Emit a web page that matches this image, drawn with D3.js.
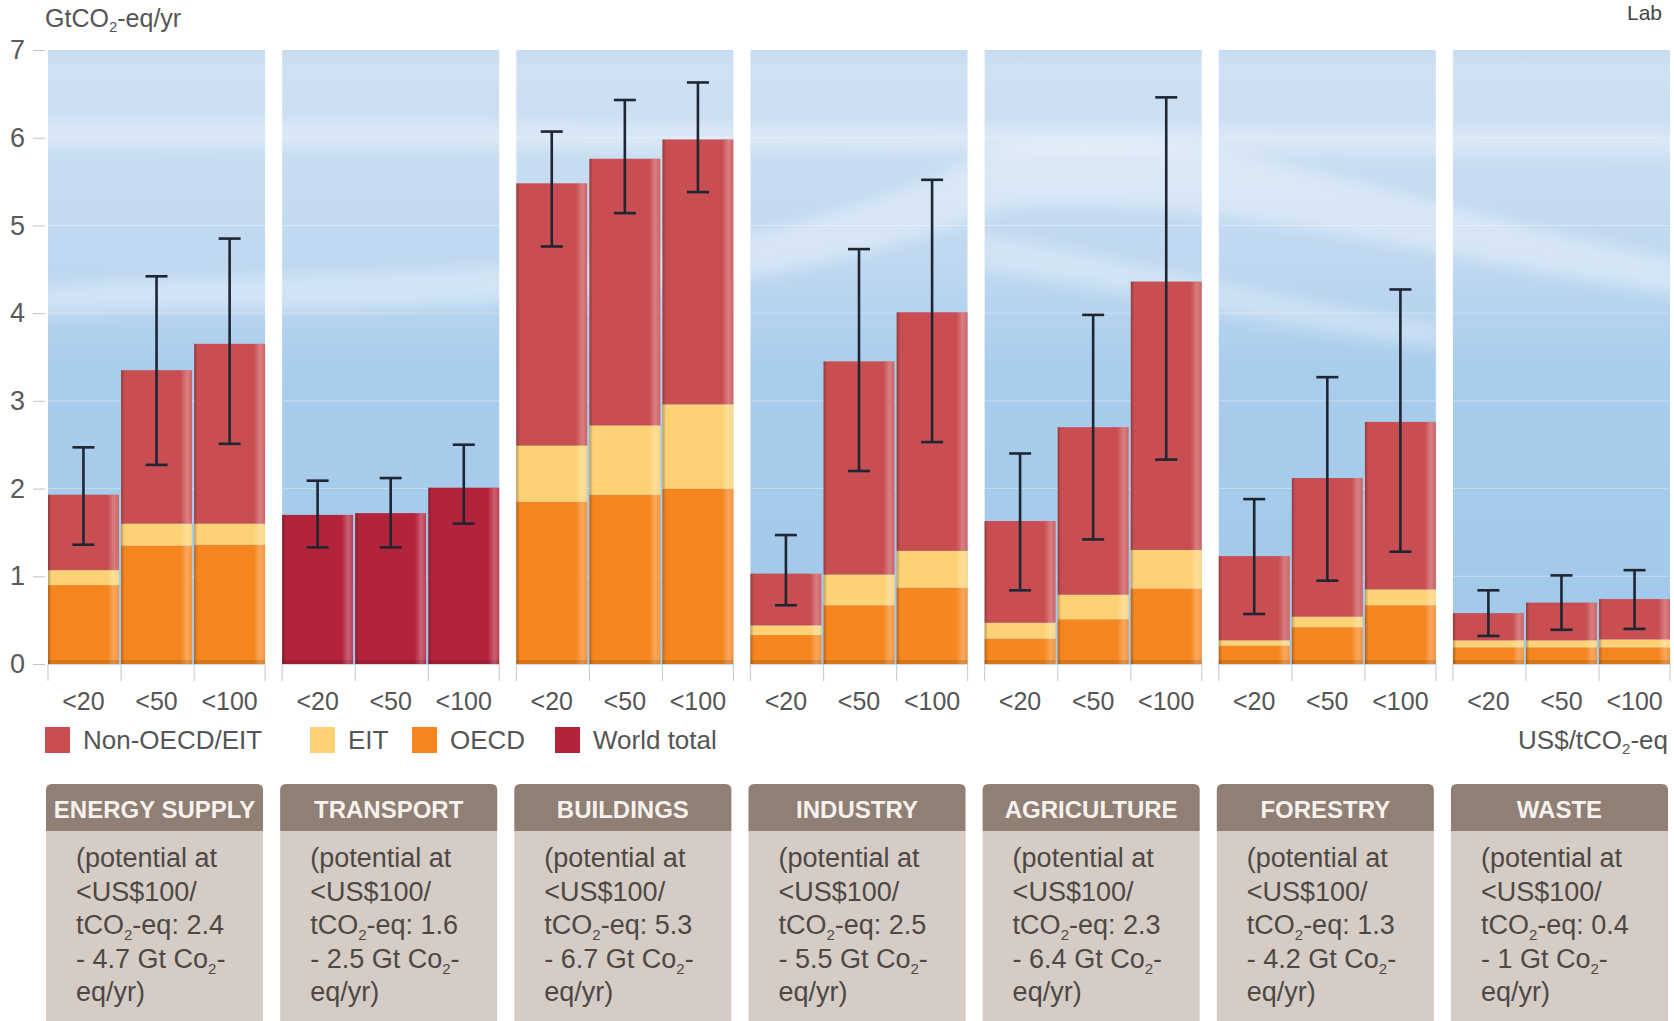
<!DOCTYPE html>
<html>
<head>
<meta charset="utf-8">
<script src="https://cdn.jsdelivr.net/npm/d3@7"></script>
<style>
  html, body { margin: 0; padding: 0; background: #fff; }
  svg { display: block; }
  text { font-family: "Liberation Sans", Arial, sans-serif; }
</style>
</head>
<body>
<svg id="chart" width="1674" height="1021"></svg>
<script>
// sectors and carbon price classes (US$/tCO2-eq)
const sectors = ['ENERGY SUPPLY', 'TRANSPORT', 'BUILDINGS', 'INDUSTRY', 'AGRICULTURE', 'FORESTRY', 'WASTE'];
const priceClasses = ['<20', '<50', '<100'];

// segment values per sector, one per price class (GtCO2-eq/yr)
const oecd    = [[0.90, 1.35, 1.36], [0, 0, 0], [1.85, 1.93, 2.00], [0.33, 0.67, 0.87], [0.29, 0.51, 0.86], [0.21, 0.42, 0.67], [0.19, 0.19, 0.19]];
const eit     = [[0.17, 0.25, 0.24], [0, 0, 0], [0.64, 0.79, 0.96], [0.11, 0.35, 0.42], [0.18, 0.28, 0.44], [0.06, 0.12, 0.18], [0.08, 0.08, 0.09]];
const nonOecd = [[0.86, 1.75, 2.05], [0, 0, 0], [2.99, 3.04, 3.02], [0.59, 2.43, 2.72], [1.16, 1.91, 3.06], [0.96, 1.58, 1.91], [0.31, 0.43, 0.46]];
const world   = [[0, 0, 0], [1.70, 1.72, 2.01], [0, 0, 0], [0, 0, 0], [0, 0, 0], [0, 0, 0], [0, 0, 0]];

// uncertainty ranges [low, high]
const errLow  = [[1.36, 2.27, 2.51], [1.33, 1.33, 1.60], [4.76, 5.14, 5.38], [0.67, 2.20, 2.53], [0.84, 1.42, 2.33], [0.57, 0.95, 1.28], [0.32, 0.39, 0.40]];
const errHigh = [[2.47, 4.42, 4.85], [2.09, 2.12, 2.50], [6.07, 6.43, 6.63], [1.47, 4.73, 5.52], [2.40, 3.98, 6.46], [1.88, 3.27, 4.27], [0.84, 1.01, 1.07]];

// potential at <US$100/tCO2-eq
const potentialLow  = ['2.4', '1.6', '5.3', '2.5', '2.3', '1.3', '0.4'];
const potentialHigh = ['4.7', '2.5', '6.7', '5.5', '6.4', '4.2', '1'];

const yTicks = [0, 1, 2, 3, 4, 5, 6, 7];

const keys = ['oecd', 'eit', 'nonOecd', 'world'];
const legendKeys = ['nonOecd', 'eit', 'oecd', 'world'];
const legendLabels = ['Non-OECD/EIT', 'EIT', 'OECD', 'World total'];
const colors = { nonOecd: '#c84e51', eit: '#fdd274', oecd: '#f5861f', world: '#b4233c' };

const rows = [];
sectors.forEach((s, i) => priceClasses.forEach((p, j) => {
  rows.push({ sector: s, price: p, oecd: oecd[i][j], eit: eit[i][j], nonOecd: nonOecd[i][j], world: world[i][j],
    lo: errLow[i][j], hi: errHigh[i][j] });
}));

const svg = d3.select('#chart');

const x0 = d3.scaleBand().domain(sectors).range([48, 1670]).paddingInner(0.073).paddingOuter(0);
const x1 = d3.scaleBand().domain(priceClasses).range([0, x0.bandwidth()]).paddingInner(0.03);
const y = d3.scaleLinear().domain([0, 7]).range([664, 50]);

const defs = svg.append('defs');

const sky = defs.append('linearGradient').attr('id', 'sky').attr('x1', 0).attr('y1', 0).attr('x2', 0).attr('y2', 1);
sky.append('stop').attr('offset', '0%').attr('stop-color', '#c8dbef');
sky.append('stop').attr('offset', '3%').attr('stop-color', '#cfe1f3');
sky.append('stop').attr('offset', '35%').attr('stop-color', '#bfd8f0');
sky.append('stop').attr('offset', '52%').attr('stop-color', '#a9cdec');
sky.append('stop').attr('offset', '100%').attr('stop-color', '#a1c8ea');

const shade = defs.append('linearGradient').attr('id', 'shade').attr('x1', 0).attr('y1', 0).attr('x2', 1).attr('y2', 0);
shade.append('stop').attr('offset', '0%').attr('stop-color', '#000').attr('stop-opacity', 0.25);
shade.append('stop').attr('offset', '5%').attr('stop-color', '#000').attr('stop-opacity', 0);
shade.append('stop').attr('offset', '84%').attr('stop-color', '#fff').attr('stop-opacity', 0);
shade.append('stop').attr('offset', '93%').attr('stop-color', '#fff').attr('stop-opacity', 0.28);
shade.append('stop').attr('offset', '100%').attr('stop-color', '#fff').attr('stop-opacity', 0.12);

defs.append('filter').attr('id', 'blur').attr('x', '-50%').attr('y', '-50%').attr('width', '200%').attr('height', '200%')
  .append('feGaussianBlur').attr('stdDeviation', 7);

const clip = defs.append('clipPath').attr('id', 'panels');
clip.selectAll('rect').data(sectors).join('rect')
  .attr('x', d => x0(d)).attr('y', y(7)).attr('width', x0.bandwidth()).attr('height', y(0) - y(7));

// panel backgrounds
svg.append('g').selectAll('rect').data(sectors).join('rect')
  .attr('x', d => x0(d)).attr('y', y(7))
  .attr('width', x0.bandwidth()).attr('height', y(0) - y(7))
  .attr('fill', 'url(#sky)');

// soft cloud wisps
const wisps = svg.append('g').attr('clip-path', 'url(#panels)').attr('filter', 'url(#blur)').attr('fill', '#fff');
wisps.append('path').attr('opacity', 0.35)
  .attr('d', `M40,${y(4.3)} C300,${y(4.6)} 700,${y(4.1)} 1000,${y(5.9)} C1200,${y(6.3)} 1400,${y(5.2)} 1680,${y(4.6)} L1680,${y(4.2)} C1400,${y(4.7)} 1200,${y(5.4)} 1000,${y(5.2)} C700,${y(3.8)} 300,${y(4.1)} 40,${y(4.0)} Z`);
wisps.append('path').attr('opacity', 0.3)
  .attr('d', `M980,${y(4.9)} C1100,${y(4.7)} 1250,${y(4.2)} 1440,${y(3.9)} L1440,${y(3.6)} C1250,${y(3.9)} 1100,${y(4.3)} 980,${y(4.5)} Z`);
wisps.append('path').attr('opacity', 0.3)
  .attr('d', `M40,${y(6.2)} L1680,${y(6.1)} L1680,${y(5.8)} L40,${y(5.9)} Z`);

// faint grid lines
svg.append('g').attr('clip-path', 'url(#panels)').selectAll('line').data(yTicks.slice(1, -1)).join('line')
  .attr('x1', 40).attr('x2', 1674).attr('y1', d => y(d)).attr('y2', d => y(d))
  .attr('stroke', '#fff').attr('stroke-opacity', 0.35).attr('stroke-width', 1);

// y axis
const yAxis = svg.append('g').attr('transform', 'translate(45,0)')
  .call(d3.axisLeft(y).tickValues(yTicks).tickSize(12).tickPadding(8).tickFormat(d3.format('d')));
yAxis.select('.domain').remove();
yAxis.selectAll('.tick line').attr('stroke', '#c3c3c3');
yAxis.selectAll('.tick text').attr('fill', '#5a5a5a').style('font-size', '27px')
  .style('font-family', '"Liberation Sans", Arial, sans-serif');

const yLabel = svg.append('text').attr('x', 45).attr('y', 27).attr('fill', '#555').style('font-size', '25px');
yLabel.append('tspan').text('GtCO');
yLabel.append('tspan').text('2').style('font-size', '15px').attr('dy', 5);
yLabel.append('tspan').text('-eq/yr').attr('dy', -5);

svg.append('text').attr('x', 1627).attr('y', 20).attr('fill', '#444').style('font-size', '21px').text('Lab');

// stacked bars
const stacked = d3.stack().keys(keys)(rows);
const sectorG = svg.append('g');
stacked.forEach(layer => {
  sectorG.append('g').attr('fill', colors[layer.key])
    .selectAll('rect').data(layer.filter(d => d[1] - d[0] > 0)).join('rect')
    .attr('x', d => x0(d.data.sector) + x1(d.data.price))
    .attr('y', d => y(d[1]))
    .attr('width', x1.bandwidth())
    .attr('height', d => y(d[0]) - y(d[1]));
});

// bar shading overlay (3D look)
const totals = rows.map(r => ({ r, top: r.oecd + r.eit + r.nonOecd + r.world }));
svg.append('g').selectAll('rect').data(totals).join('rect')
  .attr('x', d => x0(d.r.sector) + x1(d.r.price))
  .attr('y', d => y(d.top))
  .attr('width', x1.bandwidth())
  .attr('height', d => y(0) - y(d.top))
  .attr('fill', 'url(#shade)');
svg.append('g').selectAll('rect').data(totals).join('rect')
  .attr('x', d => x0(d.r.sector) + x1(d.r.price))
  .attr('y', y(0) - 4)
  .attr('width', x1.bandwidth())
  .attr('height', 4)
  .attr('fill', '#000').attr('opacity', 0.12);

// error bars
const err = svg.append('g').attr('stroke', '#1e2533').attr('stroke-width', 2.6);
const cx = d => x0(d.sector) + x1(d.price) + x1.bandwidth() / 2;
err.selectAll('.stem').data(rows).join('line').attr('class', 'stem')
  .attr('x1', cx).attr('x2', cx).attr('y1', d => y(d.lo)).attr('y2', d => y(d.hi));
err.selectAll('.capHi').data(rows).join('line').attr('class', 'capHi')
  .attr('x1', d => cx(d) - 11).attr('x2', d => cx(d) + 11).attr('y1', d => y(d.hi)).attr('y2', d => y(d.hi));
err.selectAll('.capLo').data(rows).join('line').attr('class', 'capLo')
  .attr('x1', d => cx(d) - 11).attr('x2', d => cx(d) + 11).attr('y1', d => y(d.lo)).attr('y2', d => y(d.lo));

// x ticks and labels per panel
sectors.forEach(s => {
  const g = svg.append('g').attr('transform', `translate(${x0(s)},${y(0)})`);
  const edges = priceClasses.map(p => x1(p)).concat([x0.bandwidth()]);
  g.append('line').attr('x1', 0).attr('x2', x0.bandwidth()).attr('y1', 0.5).attr('y2', 0.5)
    .attr('stroke', '#d2d8de');
  g.selectAll('line.t').data(edges).join('line').attr('class', 't')
    .attr('x1', d => d).attr('x2', d => d).attr('y1', 0).attr('y2', 17)
    .attr('stroke', '#c8d0d9').attr('stroke-width', 1.2);
  g.selectAll('text').data(priceClasses).join('text')
    .attr('x', d => x1(d) + x1.bandwidth() / 2).attr('y', 46)
    .attr('text-anchor', 'middle').attr('fill', '#555').style('font-size', '25px')
    .text(d => d);
});

// legend
const legendX = [45, 310, 412, 555];
const legend = svg.append('g');
legendKeys.forEach((k, i) => {
  legend.append('rect').attr('x', legendX[i]).attr('y', 727).attr('width', 25).attr('height', 26).attr('fill', colors[k]);
  legend.append('text').attr('x', legendX[i] + 38).attr('y', 749).attr('fill', '#555').style('font-size', '26px').text(legendLabels[i]);
});
const unit = svg.append('text').attr('x', 1668).attr('y', 749).attr('text-anchor', 'end').attr('fill', '#555').style('font-size', '26px');
unit.append('tspan').text('US$/tCO');
unit.append('tspan').text('2').style('font-size', '15px').attr('dy', 5);
unit.append('tspan').text('-eq').attr('dy', -5);

// sector boxes
const boxTop = 784, headH = 47;
sectors.forEach((s, i) => {
  const bx = x0(s) - 2, bw = x0.bandwidth(), r = 6;
  svg.append('path')
    .attr('d', `M${bx},${boxTop + headH} V${boxTop + r} Q${bx},${boxTop} ${bx + r},${boxTop} H${bx + bw - r} Q${bx + bw},${boxTop} ${bx + bw},${boxTop + r} V${boxTop + headH} Z`)
    .attr('fill', '#8f7f74');
  svg.append('rect').attr('x', bx).attr('y', boxTop + headH).attr('width', bw).attr('height', 1021 - boxTop - headH + 5)
    .attr('fill', '#d5ccc6');
  svg.append('text').attr('x', bx + bw / 2).attr('y', boxTop + 34).attr('text-anchor', 'middle')
    .attr('fill', '#f7f2ee').style('font-size', '24px').style('font-weight', 'bold').text(s);

  const tx = bx + 30, base = 867, lh = 33.6;
  const t = svg.append('g').attr('fill', '#4e4845').style('font-size', '27px');
  t.append('text').attr('x', tx).attr('y', base).text('(potential at');
  t.append('text').attr('x', tx).attr('y', base + lh).text('<US$100/');
  const l3 = t.append('text').attr('x', tx).attr('y', base + 2 * lh);
  l3.append('tspan').text('tCO');
  l3.append('tspan').text('2').style('font-size', '15px').attr('dy', 6);
  l3.append('tspan').text('-eq: ' + potentialLow[i]).attr('dy', -6);
  const l4 = t.append('text').attr('x', tx).attr('y', base + 3 * lh);
  l4.append('tspan').text('- ' + potentialHigh[i] + ' Gt Co');
  l4.append('tspan').text('2').style('font-size', '15px').attr('dy', 6);
  l4.append('tspan').text('-').attr('dy', -6);
  t.append('text').attr('x', tx).attr('y', base + 4 * lh).text('eq/yr)');
});
</script>
</body>
</html>
